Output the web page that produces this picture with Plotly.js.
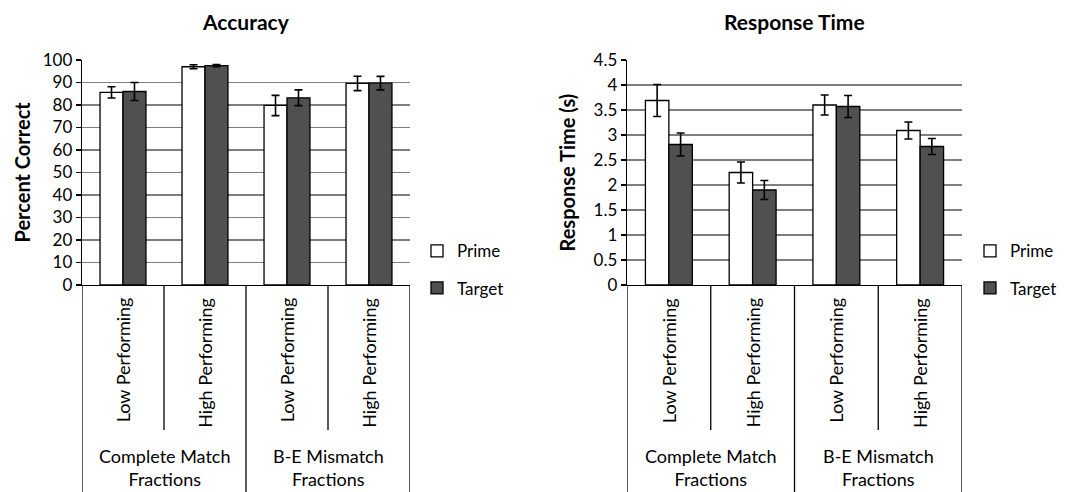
<!DOCTYPE html>
<html>
<head>
<meta charset="utf-8">
<script src="https://cdn.plot.ly/plotly-3.0.1.min.js"></script>
<style>html,body{margin:0;padding:0;background:#fff;}#chart{width:1067px;height:492px;}</style>
</head>
<body>
<div id="chart"></div>
<script>
// Categories and labels
const categories = ["CM Low", "CM High", "BE Low", "BE High"];
const subLabels = ["Low Performing", "High Performing", "Low Performing", "High Performing"];
const groupLabels = ["Complete Match<br>Fractions", "B-E Mismatch<br>Fractions"];
const seriesNames = ["Prime", "Target"];

// Accuracy (percent correct)
const accPrime = [85.6, 97.0, 79.8, 89.6];
const accPrimeErr = [2.5, 0.9, 4.5, 3.2];
const accTarget = [86.0, 97.5, 83.2, 89.7];
const accTargetErr = [4.0, 0.5, 3.5, 3.0];

// Response time (s)
const rtPrime = [3.69, 2.25, 3.60, 3.09];
const rtPrimeErr = [0.32, 0.21, 0.20, 0.17];
const rtTarget = [2.81, 1.90, 3.57, 2.77];
const rtTargetErr = [0.23, 0.19, 0.22, 0.16];

const FONT = "Lato, 'Open Sans', sans-serif";
const primeColor = "#ffffff";
const targetColor = "#505050";

function barTrace(name, y, err, color, xa, ya, legend, group) {
  return {
    type: "bar", name: name, x: categories, y: y,
    xaxis: xa, yaxis: ya, legend: legend, legendgroup: group,
    marker: {color: color, line: {color: "#000", width: 1.3}},
    error_y: {type: "data", array: err, visible: true, color: "#000", thickness: 1.6, width: 4}
  };
}

const data = [
  barTrace(seriesNames[0], accPrime, accPrimeErr, primeColor, "x", "y", "legend", "a1"),
  barTrace(seriesNames[1], accTarget, accTargetErr, targetColor, "x", "y", "legend", "a2"),
  barTrace(seriesNames[0], rtPrime, rtPrimeErr, primeColor, "x2", "y2", "legend2", "b1"),
  barTrace(seriesNames[1], rtTarget, rtTargetErr, targetColor, "x2", "y2", "legend2", "b2")
];

const yBottom = -0.93;
const yInner = -0.644;

const shapes = [];
const annotations = [];
["x", "x2"].forEach(function(xr) {
  [-0.5, 1.5, 3.5].forEach(function(v) {
    shapes.push({type: "line", xref: xr, yref: "paper", x0: v, x1: v, y0: 0, y1: yBottom, line: {color: "#000", width: 1.3}});
  });
  [0.5, 2.5].forEach(function(v) {
    shapes.push({type: "line", xref: xr, yref: "paper", x0: v, x1: v, y0: 0, y1: yInner, line: {color: "#000", width: 1.3}});
  });
  categories.forEach(function(c, i) {
    annotations.push({xref: xr, yref: "paper", x: c, y: -0.048, text: subLabels[i], textangle: -90,
      showarrow: false, xanchor: "center", yanchor: "top", font: {family: FONT, size: 18, color: "#000"}});
  });
  groupLabels.forEach(function(g, i) {
    annotations.push({xref: xr, yref: "paper", x: i * 2 + 0.5, y: -0.81, text: g,
      showarrow: false, xanchor: "center", yanchor: "middle", font: {family: FONT, size: 18, color: "#000"}});
  });
});

annotations.push({xref: "paper", yref: "paper", x: 21 / 1067, y: 0.5, text: "<b>Percent Correct</b>", textangle: -90,
  showarrow: false, xanchor: "center", yanchor: "middle", font: {family: FONT, size: 20, color: "#000"}});
annotations.push({xref: "paper", yref: "paper", x: 566 / 1067, y: 0.5, text: "<b>Response Time (s)</b>", textangle: -90,
  showarrow: false, xanchor: "center", yanchor: "middle", font: {family: FONT, size: 20, color: "#000"}});
annotations.push({xref: "x", yref: "paper", x: 1.5, y: 1.169, text: "<b>Accuracy</b>",
  showarrow: false, xanchor: "center", yanchor: "middle", font: {family: FONT, size: 21, color: "#000"}});
annotations.push({xref: "x2", yref: "paper", x: 1.5, y: 1.169, text: "<b>Response Time</b>",
  showarrow: false, xanchor: "center", yanchor: "middle", font: {family: FONT, size: 21, color: "#000"}});

const yCommon = {
  showline: true, linecolor: "#000", linewidth: 1.3, ticks: "outside", ticklen: 5, tickcolor: "#000", tickwidth: 1.3,
  showgrid: true, gridcolor: "#7f7f7f", gridwidth: 1.3, zeroline: false, fixedrange: true,
  tickfont: {family: FONT, size: 17, color: "#000"}
};
const xCommon = {
  type: "category", showticklabels: false, ticks: "", showline: true, linecolor: "#000", linewidth: 1.3,
  showgrid: false, zeroline: false, range: [-0.5, 3.5], fixedrange: true
};

const legendCommon = {
  font: {family: FONT, size: 17, color: "#000"}, traceorder: "grouped", tracegroupgap: 12,
  bgcolor: "rgba(0,0,0,0)", yanchor: "top", xanchor: "left", itemwidth: 30
};

const layout = {
  width: 1067, height: 492,
  margin: {l: 0, r: 0, t: 60, b: 207},
  paper_bgcolor: "#fff", plot_bgcolor: "#fff",
  barmode: "group", bargap: 0.44, bargroupgap: 0,
  showlegend: true,
  xaxis: Object.assign({}, xCommon, {domain: [82 / 1067, 410 / 1067], anchor: "y"}),
  yaxis: Object.assign({}, yCommon, {range: [0, 100], dtick: 10, anchor: "x"}),
  xaxis2: Object.assign({}, xCommon, {domain: [627 / 1067, 962 / 1067], anchor: "y2"}),
  yaxis2: Object.assign({}, yCommon, {range: [0, 4.5], dtick: 0.5, anchor: "x2"}),
  legend: Object.assign({}, legendCommon, {x: 417 / 1067, y: 0.23}),
  legend2: Object.assign({}, legendCommon, {x: 970 / 1067, y: 0.23}),
  shapes: shapes,
  annotations: annotations
};

Plotly.newPlot("chart", data, layout, {displayModeBar: false, staticPlot: true});
</script>
</body>
</html>
